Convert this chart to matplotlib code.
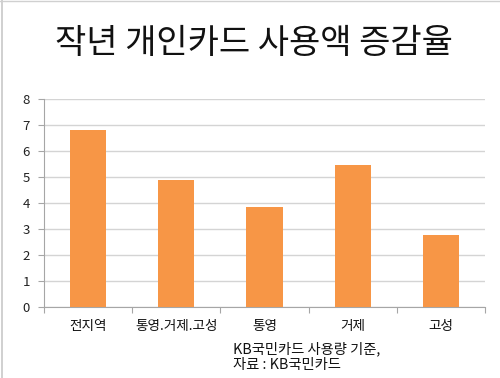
import matplotlib
matplotlib.use("Agg")
import matplotlib.pyplot as plt
import numpy as np

plt.rcParams['font.family'] = ['Noto Sans CJK KR', 'DejaVu Sans']

categories = ['전지역', '통영.거제.고성', '통영', '거제', '고성']
values = [6.8, 4.9, 3.85, 5.45, 2.78]
yticks = [0, 1, 2, 3, 4, 5, 6, 7, 8]
title = '작년 개인카드 사용액 증감율'
note = 'KB국민카드 사용량 기준,\n자료 : KB국민카드'

fig = plt.figure(figsize=(5, 3.78), dpi=100)
ax = fig.add_axes([0.088, 0.188, 0.882, 0.550])

x = np.arange(len(categories))
ax.bar(x, values, width=0.41, color='#F79646', zorder=3)

ax.set_xlim(-0.5, len(categories) - 0.5)
ax.set_ylim(0, 8)
ax.set_yticks(yticks)
ax.set_yticklabels([str(t) for t in yticks], fontsize=9.5, color='#222222')
ax.set_xticks(x)
ax.set_xticklabels(categories, fontsize=9.8, color='#111111')
ax.set_xticks(np.arange(-0.5, len(categories)), minor=True)
ax.tick_params(axis='x', which='major', length=0, pad=9)
ax.tick_params(axis='x', which='minor', length=4, color='#a6a6a6', width=0.8)
ax.tick_params(axis='y', length=4, color='#a6a6a6', width=0.8, pad=6)

ax.grid(axis='y', color='#d4d4d4', linewidth=1.0, zorder=0)
for s in ['top', 'right']:
    ax.spines[s].set_visible(False)
ax.spines['left'].set_color('#a6a6a6')
ax.spines['bottom'].set_color('#a6a6a6')
ax.spines['left'].set_linewidth(0.8)
ax.spines['bottom'].set_linewidth(0.8)

fig.text(0.508, 0.884, title, ha='center', va='center', fontsize=24.5, color='#111111')
fig.text(0.466, 0.055, note, ha='left', va='center', fontsize=10.3,
         color='#111111', linespacing=1.15)

# faint image frame on left/top
fig.add_artist(plt.Line2D([0.004, 0.004], [0, 1], color='#c8c8c8', lw=1.2, transform=fig.transFigure))
fig.add_artist(plt.Line2D([0, 1], [0.997, 0.997], color='#d0d0d0', lw=1.0, transform=fig.transFigure))

fig.savefig('out.png', dpi=100)
